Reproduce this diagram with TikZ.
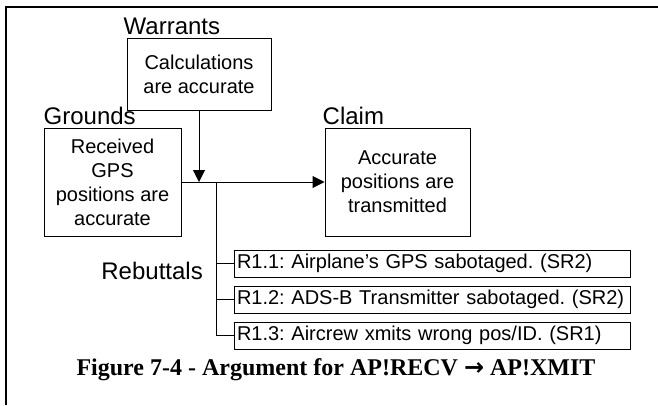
\documentclass[tikz,border=0pt]{standalone}
\usepackage{fontspec}
\setmainfont{Liberation Sans}
\newfontfamily\capfont{Liberation Serif}
\newfontfamily\symfont{DejaVu Sans}
\usetikzlibrary{arrows.meta}
\frenchspacing

\begin{document}
\begin{tikzpicture}[x=1pt, y=-1pt,
    box/.style={draw, line width=1pt, align=center, inner sep=0pt, font=\fontsize{20}{24}\selectfont},
    lbl/.style={inner sep=0pt, font=\fontsize{24}{28}\selectfont},
    rebut/.style={draw, line width=1pt, text width=390pt, minimum height=27pt, inner xsep=3pt, inner ysep=0pt, align=left, font=\fontsize{20}{24}\selectfont},
    link/.style={line width=1pt},
    >={Triangle[length=12pt, width=12pt]}]
    \useasboundingbox (0,0) rectangle (658,405);

    % Marco
    \draw[line width=2.5pt] (6,405) -- (6,7) -- (658,7);

    % Cajas principales
    \node[box, minimum width=144pt, minimum height=72pt] (warrant) at (199,74) {Calculations\\are accurate};
    \node[box, minimum width=137pt, minimum height=108pt] (grounds) at (112.5,182) {Received\\GPS\\positions are\\accurate};
    \node[box, minimum width=145pt, minimum height=108pt] (claim) at (397.5,182) {Accurate\\positions are\\transmitted};

    % Etiquetas
    \node[lbl, anchor=base west, xshift=-3pt, yshift=3pt] (warrantlbl) at (warrant.north west) {Warrants};
    \node[lbl, anchor=base west, yshift=3pt] (groundslbl) at (grounds.north west) {Grounds};
    \node[lbl, anchor=base west, xshift=-2pt, yshift=3pt] (claimlbl) at (claim.north west) {Claim};

    % Flechas
    \coordinate (joint) at (grounds.east -| warrant.south);
    \coordinate (spine) at (216,182);
    \draw[link, ->] (warrant.south) -- (joint);
    \draw[link, ->] (grounds.east) -- (claim.west);

    % Refutaciones
    \foreach \i/\y/\txt in {1/263.5/{R1.1: Airplane’s GPS sabotaged. (SR2)},
                            2/299.5/{R1.2: ADS-B Transmitter sabotaged. (SR2)},
                            3/335.5/{R1.3: Aircrew xmits wrong pos/ID. (SR1)}} {
        \node[rebut] (r\i) at (432,\y) {\mbox{\txt}};
        \draw[link] (spine |- r\i.west) -- (r\i.west);
    }
    \draw[link] (spine) -- (spine |- r3.west);
    \node[lbl, anchor=base east] (rebutlbl) at (203,279) {Rebuttals};

    % Pie de figura
    \node[anchor=base, inner sep=0pt, font=\capfont\bfseries\fontsize{24}{28}\selectfont] (caption) at (336,375)
        {Figure 7-4 - Argument for AP!RECV {\symfont\bfseries →} AP!XMIT};
\end{tikzpicture}
\end{document}
